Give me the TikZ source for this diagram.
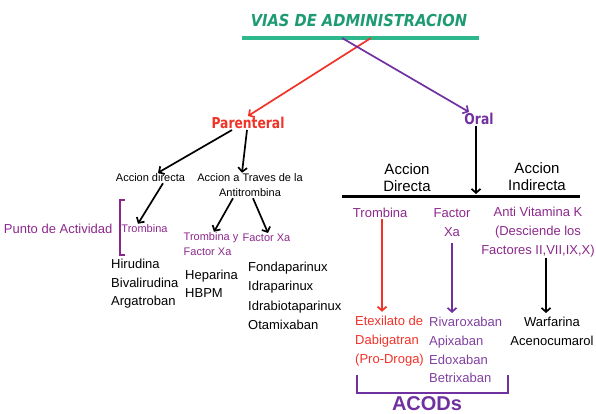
\documentclass[tikz,border=0pt]{standalone}
\usepackage{fontspec}
\setmainfont{Liberation Sans}
\newfontfamily\headfont[FakeStretch=0.82]{DejaVu Sans}
\newfontfamily\viafont[FakeStretch=0.89]{DejaVu Sans}
\usetikzlibrary{arrows.meta}

\definecolor{viagreen}{RGB}{30,155,115}
\definecolor{baregreen}{RGB}{45,185,140}
\definecolor{parred}{RGB}{240,50,40}
\definecolor{oralpurple}{RGB}{112,48,160}
\definecolor{lblpurple}{RGB}{140,40,140}
\definecolor{xabanpurple}{RGB}{128,64,160}

\tikzset{
    viatitle/.style={text=viagreen, font=\viafont\bfseries\itshape\fontsize{16.5}{18}\selectfont},
    route/.style={font=\headfont\bfseries\fontsize{15}{17}\selectfont, inner sep=1pt},
    smalltext/.style={font=\fontsize{11}{15}\selectfont, align=center, inner sep=1pt},
    drugtext/.style={font=\fontsize{13}{18.5}\selectfont, align=left, anchor=west, inner sep=0pt},
    headtext/.style={font=\fontsize{15}{17}\selectfont, align=center, inner sep=0pt},
    sitetext/.style={font=\fontsize{13}{19}\selectfont, align=center, text=lblpurple, inner sep=1pt},
    arr/.style={->, line width=1.7pt}
}

\begin{document}
\begin{tikzpicture}[x=1pt, y=-1pt, >={Straight Barb[length=4pt,width=9pt]}]
            \useasboundingbox (0, 0) rectangle (596, 414);

            \node[viatitle] (title) at (359, 20) { VIAS DE ADMINISTRACION };
            \coordinate (barleft) at (242, 38);
            \coordinate (barright) at (479, 38);
            \coordinate (barred) at (371, 38);
            \coordinate (barpurple) at (342, 38);
            \draw[baregreen, line width=3.5pt] (barleft) -- (barright);

            \node[route, text=parred] (par) at (248, 123) { Parenteral };
            \node[route, text=oralpurple] (oral) at (479, 119) { Oral };

            \draw[arr, parred] (barred) -- (par.north);
            \draw[arr, oralpurple] (barpurple) -- ([xshift=-10pt]oral.north);

            % parenteral side
            \node[smalltext] (accdir) at (152, 178) { Accion directa };
            \node[smalltext] (accat) at (250, 185.5) { Accion a Traves de la\\Antitrombina };

            \node[sitetext] (punto) at (60, 229) { Punto de Actividad };
            \node[smalltext, text=lblpurple] (trombL) at (146, 229) { Trombina };
            \node[smalltext, text=lblpurple, align=left] (tyfx) at (211, 244.5) { Trombina y\\Factor Xa };
            \node[smalltext, text=lblpurple] (fxL) at (268, 238) { Factor Xa };

            \draw[lblpurple, line width=1.2pt] (125, 200) -- (120, 200) -- (120, 255) -- (125, 255);

            \draw[arr] ([xshift=-16pt]par.south) -- ([xshift=6pt]accdir.north);
            \draw[arr] ([xshift=-1pt]par.south) -- ([xshift=-8pt]accat.north);
            \draw[arr] ([xshift=11pt]accdir.south) -- ([xshift=-8pt]trombL.north);
            \draw[arr] ([xshift=-17pt]accat.south) -- ([xshift=3pt]tyfx.north);
            \draw[arr] ([xshift=3pt]accat.south) -- (fxL.north);

            \node[drugtext] (hir) at (111, 284) { Hirudina\\Bivalirudina\\Argatroban };
            \node[drugtext] (hep) at (185, 284) { Heparina\\HBPM };
            \node[drugtext, font=\fontsize{13}{19.3}\selectfont] (fon) at (248, 296) { Fondaparinux\\Idraparinux\\Idrabiotaparinux\\Otamixaban };

            % oral side
            \coordinate (blackleft) at (342, 196);
            \coordinate (blackright) at (580, 196);
            \draw[line width=3pt] (blackleft) -- (blackright);

            \node[headtext] (accD) at (407, 178) { Accion\\Directa };
            \node[headtext] (accI) at (537, 177) { Accion\\Indirecta };

            \draw[arr] ([xshift=-3pt]oral.south) -- ([xshift=-3pt, yshift=2pt]oral.south |- blackleft);

            \node[sitetext] (trombR) at (382, 213) { Trombina };
            \node[sitetext] (fxR) at (452, 223) { Factor\\Xa };
            \node[sitetext] (avk) at (538, 232) { Anti Vitamina K\\(Desciende los\\Factores II,VII,IX,X) };

            \node[drugtext, text=parred, font=\fontsize{13}{19}\selectfont] (etex) at (355, 341) { Etexilato de\\Dabigatran\\(Pro-Droga) };
            \node[drugtext, text=xabanpurple, font=\fontsize{13}{18.7}\selectfont] (riva) at (429, 350) { Rivaroxaban\\Apixaban\\Edoxaban\\Betrixaban };
            \node[drugtext, align=center, anchor=center, font=\fontsize{13}{19}\selectfont] (warf) at (552, 331.5) { Warfarina\\Acenocumarol };

            \draw[arr, parred] (trombR.south) -- ([yshift=4pt]trombR.south |- etex.north);
            \draw[arr, oralpurple] ([yshift=-5pt]fxR.south) -- ([yshift=4pt]fxR.south |- riva.north);
            \draw[arr] ([xshift=8pt]avk.south) -- ([xshift=8pt, yshift=4pt]avk.south |- warf.north);

            \draw[oralpurple, line width=2.5pt] (357, 375) -- (357, 393) -- (508, 393) -- (508, 375);
            \node[font=\bfseries\fontsize{20}{22}\selectfont, text=oralpurple, inner sep=0pt] (acods) at (427, 404) { ACODs };
        \end{tikzpicture}
\end{document}
